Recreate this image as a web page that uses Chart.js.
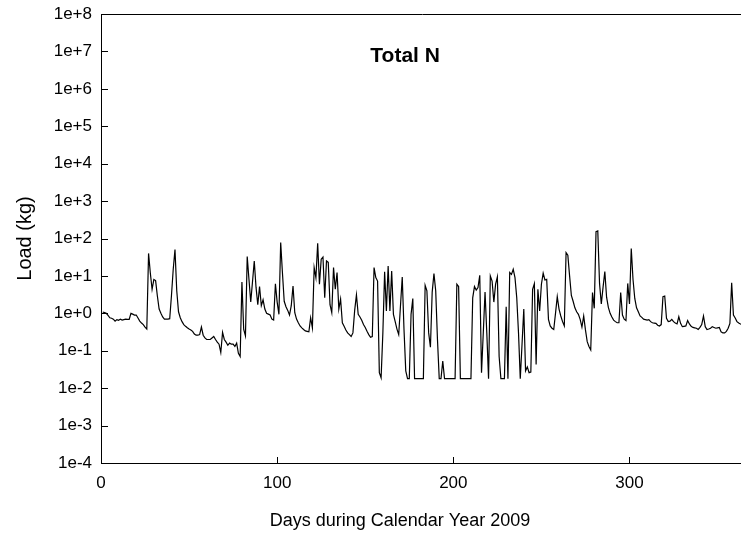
<!DOCTYPE html>
<html>
<head>
<meta charset="utf-8">
<script src="https://cdn.jsdelivr.net/npm/chart.js@4.4.0/dist/chart.umd.min.js"></script>
<style>
  html, body { margin: 0; padding: 0; background: #fff; overflow: hidden; }
  #wrap { width: 741px; height: 533px; overflow: hidden; }
</style>
</head>
<body>
<div id="wrap"><canvas id="c" width="744" height="533"></canvas></div>
<script>
// Daily Total N load, 2009 (kg)
const firstDay = 1;
const loads = [
  1.08, 1.05, 1.0, 0.88, 0.76, 0.74, 0.7, 0.62, 0.68, 0.65,
  0.7, 0.66, 0.68, 0.7, 0.69, 0.69, 1.0, 0.95, 0.9, 0.9,
  0.75, 0.62, 0.55, 0.5, 0.43, 0.38, 40, 12, 4.4, 8,
  7.5, 2.9, 1.3, 1.0, 0.8, 0.7, 0.7, 0.7, 0.72, 3,
  15, 51, 4, 1.1, 0.76, 0.6, 0.5, 0.45, 0.41, 0.38,
  0.36, 0.33, 0.28, 0.26, 0.26, 0.27, 0.43, 0.26, 0.22, 0.2,
  0.2, 0.2, 0.22, 0.24, 0.2, 0.17, 0.15, 0.09, 0.31, 0.2,
  0.17, 0.14, 0.16, 0.15, 0.15, 0.13, 0.16, 0.085, 0.07, 6.9,
  0.37, 0.25, 33, 8, 2.0, 7, 25, 5, 1.7, 5.2,
  1.6, 2.3, 1.3, 1.0, 0.95, 0.9, 0.7, 0.66, 6.2, 2.0,
  0.94, 78, 12, 2.1, 1.5, 1.2, 0.9, 1.6, 5.4, 1.04,
  0.7, 0.56, 0.46, 0.41, 0.37, 0.34, 0.33, 0.32, 0.76, 0.41,
  16.7, 9, 75, 6, 28, 32, 2.6, 25, 23, 1.7,
  1.04, 16.7, 4.4, 12.3, 1.3, 2.4, 0.56, 0.45, 0.36, 0.3,
  0.27, 0.24, 0.3, 1.2, 3.1, 0.94, 0.8, 0.65, 0.5, 0.42,
  0.33, 0.27, 0.23, 0.24, 16.7, 9, 7.3, 0.026, 0.019, 0.3,
  13, 1.15, 18.5, 1.15, 13.6, 0.94, 0.6, 0.38, 0.27, 1.6,
  9.4, 0.37, 0.029, 0.018, 0.018, 0.94, 2.5, 0.018, 0.018, 0.018,
  0.018, 0.018, 0.018, 5.6, 4, 0.3, 0.125, 3.7, 11.5, 4,
  0.2, 0.018, 0.018, 0.053, 0.018, 0.018, 0.018, 0.018, 0.018, 0.018,
  0.018, 6, 5.2, 0.018, 0.018, 0.018, 0.018, 0.018, 0.018, 0.018,
  2.6, 5.2, 4.2, 4.9, 10.4, 0.026, 0.3, 3.7, 0.3, 0.018,
  10, 7.3, 2.0, 6, 9.4, 0.07, 0.018, 0.018, 0.018, 1.5,
  0.018, 12.3, 11, 15, 9, 2.6, 0.3, 0.018, 0.15, 1.3,
  0.029, 0.037, 0.026, 0.027, 4.4, 6.2, 0.043, 4.4, 1.15, 6,
  11.8, 7.8, 8.1, 0.69, 0.46, 0.4, 0.37, 1.0, 2.8, 1.3,
  0.85, 0.6, 0.46, 42, 36, 10, 3, 2.1, 1.4, 1.1,
  0.94, 0.69, 0.43, 0.85, 0.36, 0.175, 0.13, 0.105, 3.6, 1.36,
  152, 160, 6.3, 1.77, 5, 13, 2.7, 1.45, 1.0, 0.8,
  0.66, 0.6, 0.56, 0.56, 3.6, 0.9, 0.7, 0.64, 6.3, 1.77,
  54, 8, 2.5, 1.4, 1.1, 0.85, 0.78, 0.7, 0.68, 0.66,
  0.68, 0.6, 0.56, 0.55, 0.54, 0.48, 0.46, 0.5, 2.8, 2.9,
  0.74, 0.6, 0.62, 0.69, 0.6, 0.55, 0.52, 0.81, 0.54, 0.44,
  0.45, 0.46, 0.64, 0.52, 0.45, 0.42, 0.41, 0.4, 0.37, 0.42,
  0.5, 0.85, 0.44, 0.37, 0.38, 0.4, 0.44, 0.42, 0.4, 0.41,
  0.42, 0.32, 0.3, 0.3, 0.33, 0.4, 0.54, 6.6, 0.9, 0.75,
  0.6, 0.55, 0.52, 0.5, 0.5
];
const xTicks = [0, 100, 200, 300];
const yTickPowers = [-4, -3, -2, -1, 0, 1, 2, 3, 4, 5, 6, 7, 8];
const panelTitle = 'Total N';
const xTitle = 'Days during Calendar Year 2009';
const yTitle = 'Load (kg)';

const FONT = '"Liberation Sans", Arial, Helvetica, sans-serif';

const points = loads.map((v, i) => ({ x: firstDay + i, y: v }));

// inward tick marks, top frame line, panel label and the x title
const frameAndTicks = {
  id: 'frameAndTicks',
  afterDraw(chart) {
    const { ctx, chartArea: a, scales: { x, y } } = chart;
    ctx.save();
    ctx.strokeStyle = '#000';
    ctx.lineWidth = 1;
    ctx.beginPath();
    ctx.moveTo(a.left, a.top + 0.5);
    ctx.lineTo(a.right, a.top + 0.5);
    y.ticks.forEach(t => {
      const py = Math.round(y.getPixelForValue(t.value)) + 0.5;
      ctx.moveTo(a.left, py);
      ctx.lineTo(a.left + 7, py);
    });
    x.ticks.forEach(t => {
      const px = Math.round(x.getPixelForValue(t.value)) + 0.5;
      ctx.moveTo(px, a.bottom);
      ctx.lineTo(px, a.bottom - 6);
    });
    ctx.stroke();

    ctx.fillStyle = '#000';
    ctx.textAlign = 'center';
    ctx.textBaseline = 'middle';
    ctx.font = 'bold 21px ' + FONT;
    ctx.fillText(panelTitle, a.left + a.width * 0.473, a.top + a.height * 0.095);
    ctx.font = '18px ' + FONT;
    ctx.fillText(xTitle, a.left + a.width * 0.465, x.bottom - 12);
    ctx.restore();
  }
};

Chart.defaults.color = '#000';
Chart.defaults.font.family = FONT;
Chart.defaults.font.size = 17;

new Chart(document.getElementById('c'), {
  type: 'line',
  data: {
    datasets: [{
      data: points,
      borderColor: '#000',
      borderWidth: 1.2,
      pointRadius: 0,
      tension: 0,
      fill: false
    }]
  },
  options: {
    responsive: false,
    animation: false,
    events: [],
    layout: { padding: { left: 0, right: 0, top: 14, bottom: 0 } },
    plugins: {
      legend: { display: false },
      tooltip: { enabled: false }
    },
    scales: {
      x: {
        type: 'linear',
        min: 0,
        max: 365,
        afterBuildTicks: s => { s.ticks = xTicks.map(v => ({ value: v })); },
        afterFit: s => { s.height = 70; s.paddingLeft = 0; s.paddingRight = 0; },
        grid: { display: false, drawTicks: false },
        border: { display: true, color: '#000', width: 1 },
        ticks: { padding: 10, autoSkip: false, maxRotation: 0 }
      },
      y: {
        type: 'logarithmic',
        min: 1e-4,
        max: 1e8,
        afterBuildTicks: s => { s.ticks = yTickPowers.map(p => ({ value: Math.pow(10, p) })); },
        afterFit: s => { s.width = 101; s.paddingTop = 0; s.paddingBottom = 0; },
        grid: { display: false, drawTicks: false },
        border: { display: true, color: '#000', width: 1 },
        ticks: {
          padding: 9,
          autoSkip: false,
          callback: v => {
            const e = Math.round(Math.log10(v));
            return '1e' + (e >= 0 ? '+' : '') + e;
          }
        },
        title: { display: true, text: yTitle, font: { size: 20 }, padding: { top: 13, bottom: 0 } }
      }
    }
  },
  plugins: [frameAndTicks]
});
</script>
</body>
</html>
